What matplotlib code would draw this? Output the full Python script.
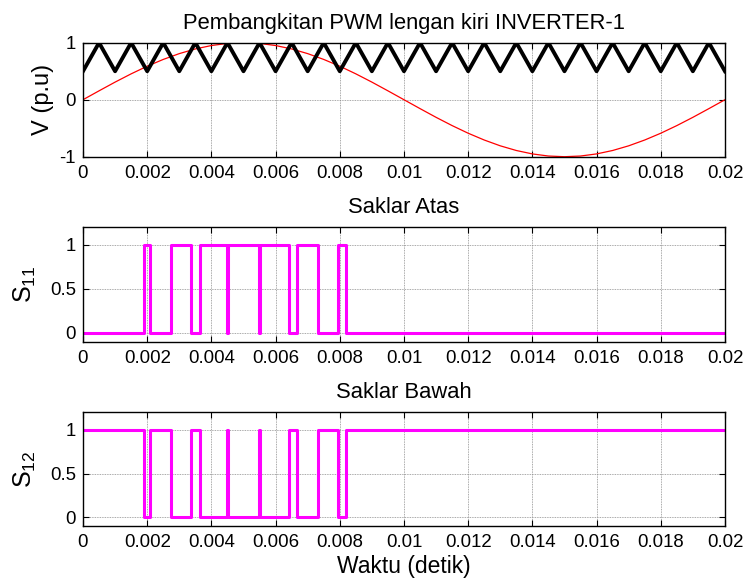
import matplotlib
matplotlib.use("Agg")
import matplotlib.pyplot as plt

plt.rcParams["font.family"] = ["Liberation Sans", "DejaVu Sans"]
plt.rcParams["mathtext.fontset"] = "custom"
plt.rcParams["mathtext.rm"] = "Liberation Sans"
plt.rcParams["mathtext.it"] = "Liberation Sans"

# Reference (modulating) sine, sampled every 0.5 ms
t_ref = [i * 0.0005 for i in range(41)]
v_ref = [0.000, 0.156, 0.309, 0.454, 0.588, 0.707, 0.809, 0.891, 0.951, 0.988,
         1.000, 0.988, 0.951, 0.891, 0.809, 0.707, 0.588, 0.454, 0.309, 0.156,
         0.000, -0.156, -0.309, -0.454, -0.588, -0.707, -0.809, -0.891, -0.951, -0.988,
         -1.000, -0.988, -0.951, -0.891, -0.809, -0.707, -0.588, -0.454, -0.309, -0.156,
         0.000]

# Triangular carrier vertices (valleys at 0.5, peaks at 1)
t_car = [i * 0.0005 for i in range(41)]
v_car = [0.5, 1.0] * 20 + [0.5]

# Gate signals of the upper and lower switch (switching instants, state after each)
t_s11 = [0.0, 0.00190, 0.00210, 0.00274, 0.00337, 0.00363, 0.00449, 0.00451,
         0.00549, 0.00551, 0.00642, 0.00666, 0.00732, 0.00795, 0.00818, 0.02]
s11 = [0, 1, 0, 1, 0, 1, 0, 1, 0, 1, 0, 1, 0, 1, 0, 0]
t_s12 = t_s11
s12 = [1, 0, 1, 0, 1, 0, 1, 0, 1, 0, 1, 0, 1, 0, 1, 1]

xticks = [0, 0.002, 0.004, 0.006, 0.008, 0.01, 0.012, 0.014, 0.016, 0.018, 0.02]
xticklabels = ["0", "0.002", "0.004", "0.006", "0.008", "0.01", "0.012",
               "0.014", "0.016", "0.018", "0.02"]

TICK_FS = 13.4
TITLE_FS = 15.8
LABEL_FS = 17

fig = plt.figure(figsize=(7.45, 5.83), dpi=100)
ax1 = fig.add_axes([0.1114, 0.7312, 0.8617, 0.1955])
ax2 = fig.add_axes([0.1114, 0.4139, 0.8617, 0.1962])
ax3 = fig.add_axes([0.1114, 0.0978, 0.8617, 0.1950])


def style(ax):
    ax.set_xlim(0, 0.02)
    ax.set_xticks(xticks)
    ax.set_xticklabels(xticklabels)
    ax.tick_params(direction="in", top=True, right=True, length=4, width=0.8,
                   labelsize=TICK_FS)
    ax.tick_params(axis="x", pad=6)
    ax.tick_params(axis="y", pad=5)
    ax.grid(True, color="0.55", linestyle=(0, (1, 1)), linewidth=0.6)
    ax.set_axisbelow(True)
    for sp in ax.spines.values():
        sp.set_linewidth(1.0)
        sp.set_color("black")


ax1.plot(t_ref, v_ref, color="red", linewidth=0.9)
ax1.plot(t_car, v_car, color="black", linewidth=2.8)
ax1.set_ylim(-1, 1)
ax1.set_yticks([-1, 0, 1])
ax1.set_yticklabels(["-1", "0", "1"])
style(ax1)
ax1.set_ylabel("V (p.u)", fontsize=LABEL_FS, labelpad=4)
ax1.set_title("Pembangkitan PWM lengan kiri INVERTER-1", fontsize=TITLE_FS, pad=10)

ax2.plot(t_s11, s11, color="#ff00ff", linewidth=2.2, drawstyle="steps-post")
ax2.set_ylim(-0.1, 1.2)
ax2.set_yticks([0, 0.5, 1])
ax2.set_yticklabels(["0", "0.5", "1"])
style(ax2)
ax2.set_ylabel(r"$\mathregular{S_{11}}$", fontsize=LABEL_FS + 1, labelpad=9)
ax2.set_title("Saklar Atas", fontsize=TITLE_FS, pad=10)

ax3.plot(t_s12, s12, color="#ff00ff", linewidth=2.2, drawstyle="steps-post")
ax3.set_ylim(-0.1, 1.2)
ax3.set_yticks([0, 0.5, 1])
ax3.set_yticklabels(["0", "0.5", "1"])
style(ax3)
ax3.set_ylabel(r"$\mathregular{S_{12}}$", fontsize=LABEL_FS + 1, labelpad=9)
ax3.set_title("Saklar Bawah", fontsize=TITLE_FS, pad=10)
ax3.set_xlabel("Waktu (detik)", fontsize=16.5, labelpad=3)

fig.savefig("out.png", dpi=100)
